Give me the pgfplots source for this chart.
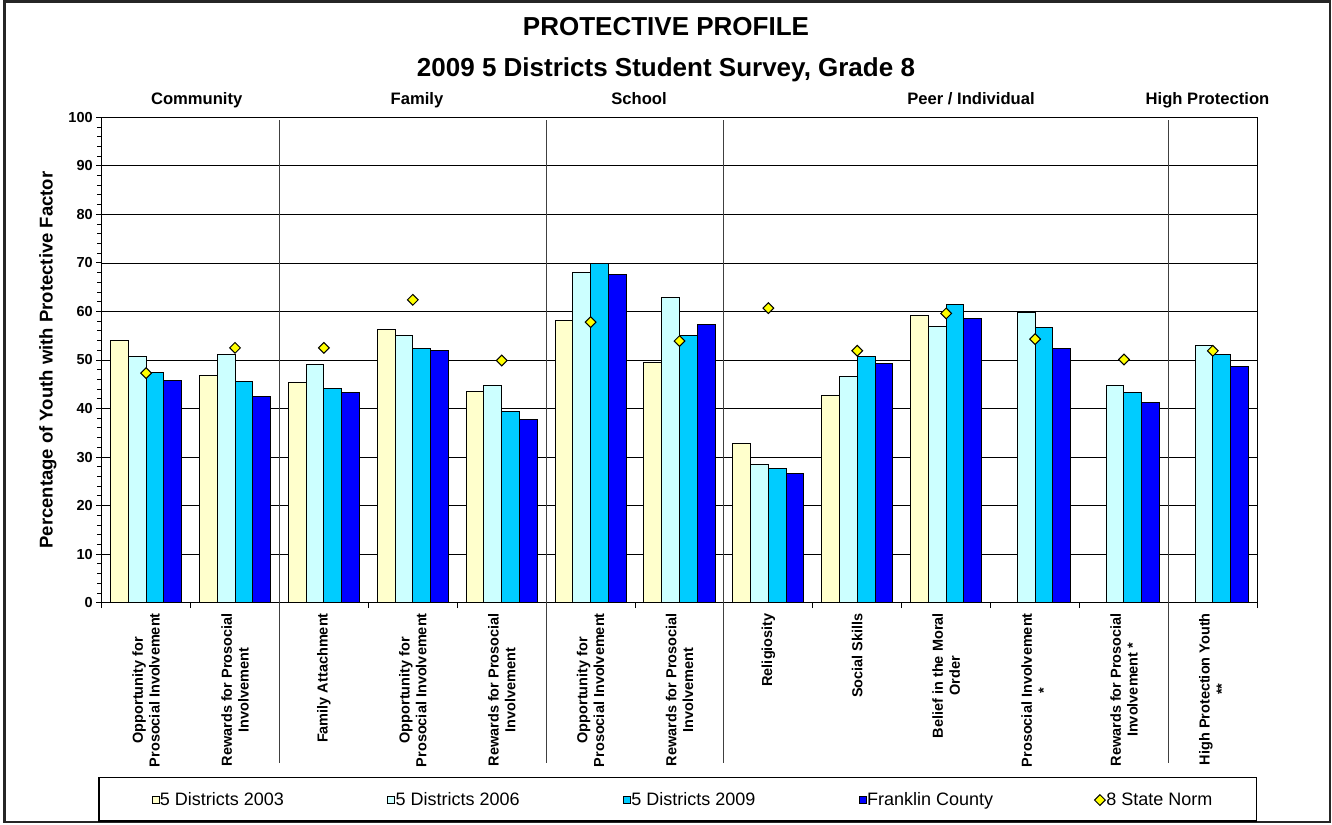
\documentclass[border=0pt]{standalone}
\usepackage{fontspec}
\setmainfont{Liberation Sans}
\usepackage{pgfplots}
\pgfplotsset{compat=1.18}
\definecolor{cA}{HTML}{FFFFCC}
\definecolor{cB}{HTML}{CCFFFF}
\definecolor{cC}{HTML}{00CCFF}
\definecolor{cD}{HTML}{0000FF}
\definecolor{cN}{HTML}{FFFF00}
\pgfplotsset{
  boxlegend/.style={legend image code/.code={\draw[##1, line width=0.9pt] (0pt,-3.4pt) rectangle (6.8pt,3.4pt);}},
  marklegend/.style={legend image code/.code={\draw[##1] plot coordinates {(4pt,0pt)};}},
}
\begin{document}
\begin{tikzpicture}[x=1pt,y=1pt]
\useasboundingbox (0,0) rectangle (1332,-824);
\fill[white] (0,0) rectangle (1332,-824);
\draw[line width=2.6pt, black!85] (4.3,-1.3) rectangle (1330,-822);
\node[anchor=base, font=\bfseries\fontsize{26}{30}\selectfont] at (666,-35.1) {PROTECTIVE PROFILE};
\node[anchor=base, font=\bfseries\fontsize{26}{30}\selectfont] at (666,-76.3) {2009 5 Districts Student Survey, Grade 8};
\begin{scope}[every node/.style={anchor=base, font=\bfseries\fontsize{16.6}{20}\selectfont}]
\node at (196.7,-104.2) {Community};
\node at (417,-104.2) {Family};
\node at (639,-104.2) {School};
\node at (971,-104.2) {Peer / Individual};
\node at (1207.5,-104.2) {High Protection};
\end{scope}
\node[rotate=90, anchor=base, font=\bfseries\fontsize{18.5}{22}\selectfont] at (52.6,-360) {Percentage of Youth with Protective Factor};
\draw[line width=1.5pt, black] (99,-777.3) rectangle (1256.5,-821);
\begin{axis}[
  at={(101.7pt,-602.7pt)}, anchor=south west,
  scale only axis, width=1155.6pt, height=485.4pt,
  xmin=-0.5, xmax=12.5, ymin=0, ymax=100,
  clip=false,
  axis line style={line width=1.3pt, black},
  ytick={0,10,...,100}, minor y tick num=4,
  ymajorgrids, grid style={black, line width=0.8pt},
  tick align=outside, major tick length=5.5pt, minor tick length=4.5pt,
  tick style={black, line width=1pt},
  xtick pos=bottom, ytick pos=left,
  xtick={-0.5,0.5,...,12.5}, xticklabels={},
  extra x ticks={0,1,2,3,4,5,6,7,8,9,10,11,12},
  extra x tick style={major tick length=0pt},
  extra x tick labels={{Opportunity for\\Prosocial Involvement},{Rewards for Prosocial\\Involvement},{Family Attachment},{Opportunity for\\Prosocial Involvement},{Rewards for Prosocial\\Involvement},{Opportunity for\\Prosocial Involvement},{Rewards for Prosocial\\Involvement},{Religiosity},{Social Skills},{Belief in the Moral\\Order},{Prosocial Involvement\\*},{Rewards for Prosocial\\Involvement *},{High Protection Youth\\**}},
  x tick label style={rotate=90, anchor=east, align=center, xshift=-7pt, font=\bfseries\fontsize{14.5}{16.8}\selectfont},
  y tick label style={font=\bfseries\fontsize{14.5}{16}\selectfont},
  /pgf/number format/assume math mode=true,
  legend columns=5,
  legend cell align=left,
  legend style={at={(0.0433,-0.4065)}, anchor=west, draw=none, fill=none, inner sep=0pt, outer sep=0pt, column sep=0pt, nodes={inner sep=0pt, outer sep=0pt}, font=\fontsize{18}{21}\selectfont},
  boxlegend,
]
\addplot[ybar, bar width=0.2, bar shift=-0.3, fill=cA, draw=black, line width=1pt] coordinates {
(0,54.1) (1,46.9) (2,45.3) (3,56.2) (4,43.5) (5,58.1) (6,49.4) (7,32.8) (8,42.6) (9,59.1)};
\addlegendentry{\makebox[228pt][l]{\hspace{0.5pt}5 Districts 2003}}
\addplot[ybar, bar width=0.2, bar shift=-0.1, fill=cB, draw=black, line width=1pt] coordinates {
(0,50.8) (1,51.2) (2,49.0) (3,55.0) (4,44.7) (5,68.1) (6,62.8) (7,28.4) (8,46.5) (9,56.8) (10,59.7) (11,44.7) (12,52.9)};
\addlegendentry{\makebox[228pt][l]{\hspace{0.5pt}5 Districts 2006}}
\addplot[ybar, bar width=0.2, bar shift=0.1, fill=cC, draw=black, line width=1pt] coordinates {
(0,47.5) (1,45.5) (2,44.1) (3,52.3) (4,39.3) (5,69.8) (6,55.1) (7,27.6) (8,50.8) (9,61.5) (10,56.6) (11,43.3) (12,51.2)};
\addlegendentry{\makebox[228pt][l]{\hspace{0.5pt}5 Districts 2009}}
\addplot[ybar, bar width=0.2, bar shift=0.3, fill=cD, draw=black, line width=1pt] coordinates {
(0,45.7) (1,42.5) (2,43.4) (3,51.9) (4,37.7) (5,67.7) (6,57.3) (7,26.7) (8,49.2) (9,58.6) (10,52.3) (11,41.2) (12,48.6)};
\addlegendentry{\makebox[228pt][l]{\hspace{0.5pt}Franklin County}}
\addplot[only marks, mark=square*, mark size=3.8pt, mark options={rotate=45, fill=cN, draw=black, line width=1pt}, marklegend] coordinates {
(0,47.3) (1,52.5) (2,52.5) (3,62.4) (4,49.9) (5,57.8) (6,53.9) (7,60.7) (8,51.9) (9,59.6) (10,54.3) (11,50.1) (12,51.9)};
\addlegendentry{\hspace{1pt}8 State Norm}
\foreach \s in {1.5,4.5,6.5,11.5}{
  \edef\tmp{\noexpand\draw[line width=1pt, black!75] (axis cs:\s,99.4) -- (axis cs:\s,-33);}
  \tmp
}
\end{axis}
\end{tikzpicture}
\end{document}
